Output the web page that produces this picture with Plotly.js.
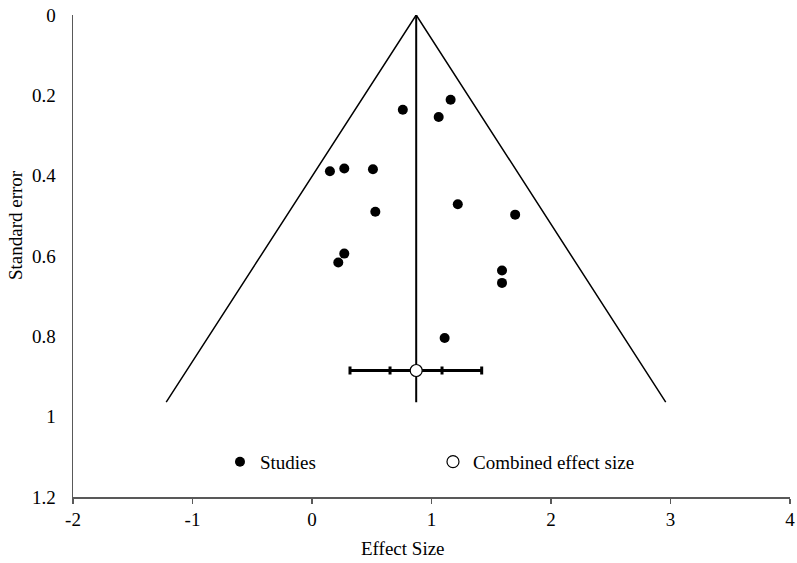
<!DOCTYPE html>
<html>
<head>
<meta charset="utf-8">
<script src="https://cdn.plot.ly/plotly-3.0.1.min.js"></script>
<style>html,body{margin:0;padding:0;background:#fff;}#chart{width:797px;height:563px;}</style>
</head>
<body>
<div id="chart"></div>
<script>
// Study effect sizes and standard errors
const studyEffect = [0.76, 1.16, 1.06, 0.15, 0.27, 0.51, 0.53, 1.22, 1.70, 0.27, 0.22, 1.59, 1.59, 1.11];
const studySE     = [0.236, 0.211, 0.254, 0.389, 0.382, 0.384, 0.490, 0.471, 0.497, 0.594, 0.616, 0.636, 0.667, 0.804];

// Combined effect
const combinedEffect = [0.872];
const combinedSE = [0.885];
const ciLower = 0.653, ciUpper = 1.088;   // inner ticks
const piLower = 0.318, piUpper = 1.420;   // outer caps

// Funnel outline and centre line
const funnelX = [-1.22, 0.872, 2.96];
const funnelY = [0.964, 0, 0.964];
const centerX = [0.872, 0.872];
const centerY = [0, 0.964];

const xTicks = [-2, -1, 0, 1, 2, 3, 4];
const yTicks = [0, 0.2, 0.4, 0.6, 0.8, 1, 1.2];
const xTitle = 'Effect Size';
const yTitle = 'Standard error';

const font = 'Liberation Serif';

const traces = [
  {x: funnelX, y: funnelY, mode: 'lines', line: {color: '#000', width: 1.5}, showlegend: false, hoverinfo: 'skip'},
  {x: centerX, y: centerY, mode: 'lines', line: {color: '#000', width: 2}, showlegend: false, hoverinfo: 'skip'},
  {x: studyEffect, y: studySE, mode: 'markers', name: 'Studies',
   marker: {color: '#000', size: 10, line: {width: 0}}},
  {x: combinedEffect, y: combinedSE, mode: 'markers', showlegend: false,
   marker: {size: 1, color: 'rgba(0,0,0,0)'},
   error_x: {type: 'data', symmetric: false, array: [piUpper - combinedEffect[0]], arrayminus: [combinedEffect[0] - piLower],
             color: '#000', thickness: 3, width: 4}, hoverinfo: 'skip'},
  {x: combinedEffect, y: combinedSE, mode: 'markers', showlegend: false,
   marker: {size: 1, color: 'rgba(0,0,0,0)'},
   error_x: {type: 'data', symmetric: false, array: [ciUpper - combinedEffect[0]], arrayminus: [combinedEffect[0] - ciLower],
             color: '#000', thickness: 3, width: 4}, hoverinfo: 'skip'},
  {x: combinedEffect, y: combinedSE, mode: 'markers', name: 'Combined effect size',
   marker: {color: '#fff', size: 12, line: {color: '#000', width: 1.2}}}
];

const layout = {
  width: 797, height: 563,
  margin: {l: 73, r: 7, t: 15, b: 66},
  paper_bgcolor: '#fff', plot_bgcolor: '#fff',
  font: {family: font, color: '#000', size: 19},
  showlegend: true,
  legend: {orientation: 'h', x: 0.205, y: 0.073, xanchor: 'left', yanchor: 'middle',
           font: {family: font, size: 19, color: '#000'}, bgcolor: 'rgba(0,0,0,0)',
           entrywidth: 168, entrywidthmode: 'pixels', itemclick: false},
  xaxis: {range: [-2, 4], tickvals: xTicks, ticktext: xTicks.map(String),
          showgrid: false, zeroline: false, showline: true, linecolor: '#595959', linewidth: 1.5,
          ticks: 'outside', ticklen: 5, tickcolor: '#595959', tickwidth: 1.2,
          tickfont: {family: font, size: 19, color: '#000'}},
  yaxis: {range: [1.2, 0], tickvals: yTicks, ticktext: yTicks.map(String),
          showgrid: false, zeroline: false, showline: true, linecolor: '#595959', linewidth: 1.5,
          ticks: '', ticklabelstandoff: 12, tickfont: {family: font, size: 19, color: '#000'}},
  annotations: [
    {text: xTitle, xref: 'paper', yref: 'paper', x: 0.46, y: -0.106, xanchor: 'center', yanchor: 'middle',
     showarrow: false, font: {family: font, size: 19, color: '#000'}},
    {text: yTitle, xref: 'paper', yref: 'paper', x: -0.081, y: 0.564, xanchor: 'center', yanchor: 'middle',
     textangle: -90, showarrow: false, font: {family: font, size: 19, color: '#000'}}
  ]
};

Plotly.newPlot('chart', traces, layout, {displayModeBar: false, staticPlot: true});
</script>
</body>
</html>
